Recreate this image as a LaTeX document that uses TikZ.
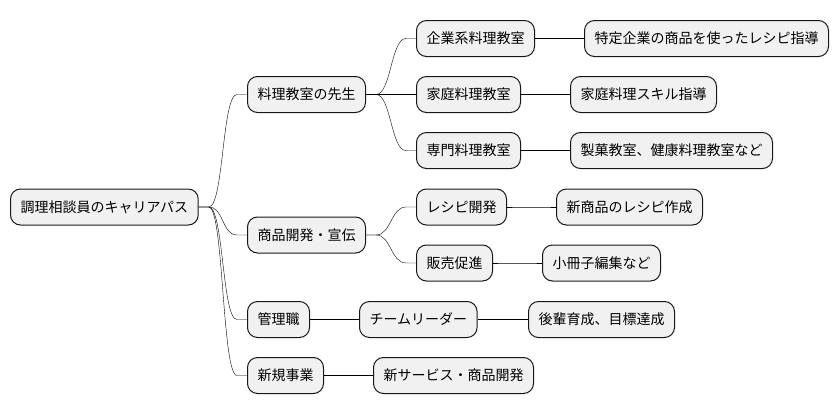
\documentclass[tikz,border=0pt]{standalone}
\usepackage{fontspec}
\setmainfont{Noto Sans CJK JP}
\usepackage{tikz}
\usetikzlibrary{calc}
\usepackage{xcolor}

\definecolor{boxfill}{HTML}{F1F1F1}
\definecolor{boxline}{HTML}{181818}

\tikzset{
  topic/.style={draw=boxline, line width=1pt, fill=boxfill, rounded corners=10pt,
    anchor=west, minimum height=36pt, inner xsep=10pt, font=\fontsize{14pt}{16pt}\selectfont},
  branch/.style={draw=boxline, line width=0.8pt,
    to path={-- ++(10,0) .. controls +(15,0) and ($(\tikztotarget)+(-25,0)$) .. ($(\tikztotarget)+(-10,0)$) -- (\tikztotarget)}}
}

\begin{document}
\begin{tikzpicture}[x=1pt, y=-1pt]
  \useasboundingbox (0,0) rectangle (838,415);

  \node[topic] (root) at (10,207) {調理相談員のキャリアパス};

  \node[topic] (teacher) at (247,94.5) {料理教室の先生};
  \node[topic] (product) at (247,235) {商品開発・宣伝};
  \node[topic] (manager) at (247,319.5) {管理職};
  \node[topic] (newbiz) at (247,375.5) {新規事業};

  \node[topic] (corp) at (416,38.5) {企業系料理教室};
  \node[topic] (home) at (416,94.5) {家庭料理教室};
  \node[topic] (special) at (416,150.5) {専門料理教室};
  \node[topic] (recipe) at (416,207) {レシピ開発};
  \node[topic] (sales) at (416,263) {販売促進};
  \node[topic] (leader) at (359,319.5) {チームリーダー};
  \node[topic] (service) at (373,375.5) {新サービス・商品開発};

  \node[topic] (corpnote) at (584,38.5) {特定企業の商品を使ったレシピ指導};
  \node[topic] (homenote) at (570,94.5) {家庭料理スキル指導};
  \node[topic] (specialnote) at (570,150.5) {製菓教室、健康料理教室など};
  \node[topic] (recipenote) at (556,207) {新商品のレシピ作成};
  \node[topic] (salesnote) at (542,263) {小冊子編集など};
  \node[topic] (leadernote) at (528,319.5) {後輩育成、目標達成};

  \draw (root.east) to[branch] (teacher.west);
  \draw (root.east) to[branch] (product.west);
  \draw (root.east) to[branch] (manager.west);
  \draw (root.east) to[branch] (newbiz.west);

  \draw (teacher.east) to[branch] (corp.west);
  \draw (teacher.east) to[branch] (home.west);
  \draw (teacher.east) to[branch] (special.west);
  \draw (product.east) to[branch] (recipe.west);
  \draw (product.east) to[branch] (sales.west);
  \draw (manager.east) to[branch] (leader.west);
  \draw (newbiz.east) to[branch] (service.west);

  \draw (corp.east) to[branch] (corpnote.west);
  \draw (home.east) to[branch] (homenote.west);
  \draw (special.east) to[branch] (specialnote.west);
  \draw (recipe.east) to[branch] (recipenote.west);
  \draw (sales.east) to[branch] (salesnote.west);
  \draw (leader.east) to[branch] (leadernote.west);
\end{tikzpicture}
\end{document}
